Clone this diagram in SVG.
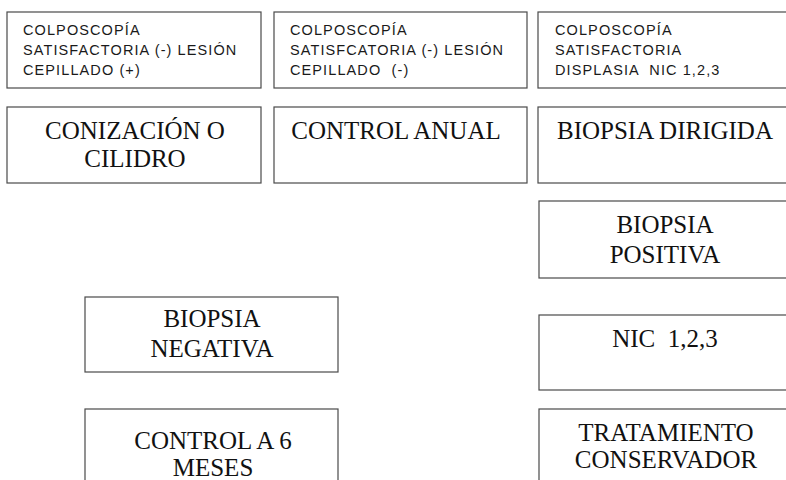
<svg xmlns="http://www.w3.org/2000/svg" width="786" height="480" viewBox="0 0 786 480">
  <style>
    .box { fill: #ffffff; stroke: #4a4a4a; stroke-width: 1.2; }
    .small { font-family: "Liberation Sans", Arial, sans-serif; font-size: 14.5px; letter-spacing: 1.1px; fill: #1a1a1a; }
    .big { font-family: "Liberation Serif", "Times New Roman", serif; font-size: 25px; fill: #111111; text-anchor: middle; }
  </style>
  <rect width="786" height="480" fill="#ffffff"/>

  <!-- top row: colposcopy findings -->
  <g id="colpo-lesion-cepillado-pos">
    <rect class="box" x="7" y="12" width="254" height="76"/>
    <text class="small" x="23" y="35">COLPOSCOPÍA</text>
    <text class="small" x="23" y="55">SATISFACTORIA (-) LESIÓN</text>
    <text class="small" x="23" y="75">CEPILLADO (+)</text>
  </g>
  <g id="colpo-lesion-cepillado-neg">
    <rect class="box" x="274" y="12" width="253" height="76"/>
    <text class="small" x="290" y="35">COLPOSCOPÍA</text>
    <text class="small" x="290" y="55">SATISFCATORIA (-) LESIÓN</text>
    <text class="small" x="290" y="75" xml:space="preserve">CEPILLADO  (-)</text>
  </g>
  <g id="colpo-displasia">
    <rect class="box" x="538" y="12" width="260" height="76"/>
    <text class="small" x="555" y="35">COLPOSCOPÍA</text>
    <text class="small" x="555" y="55">SATISFACTORIA</text>
    <text class="small" x="555" y="75" xml:space="preserve">DISPLASIA  NIC 1,2,3</text>
  </g>

  <!-- second row: first action -->
  <g id="conizacion">
    <rect class="box" x="7" y="107" width="254" height="76"/>
    <text class="big" x="135" y="139">CONIZACIÓN O</text>
    <text class="big" x="135" y="167">CILIDRO</text>
  </g>
  <g id="control-anual">
    <rect class="box" x="274" y="107" width="253" height="76"/>
    <text class="big" x="396" y="139">CONTROL ANUAL</text>
  </g>
  <g id="biopsia-dirigida">
    <rect class="box" x="538" y="107" width="260" height="76"/>
    <text class="big" x="665" y="139">BIOPSIA DIRIGIDA</text>
  </g>

  <!-- right column: positive biopsy path -->
  <g id="biopsia-positiva">
    <rect class="box" x="539" y="201" width="260" height="77"/>
    <text class="big" x="665" y="233">BIOPSIA</text>
    <text class="big" x="665" y="263">POSITIVA</text>
  </g>
  <g id="nic">
    <rect class="box" x="539" y="315" width="260" height="75"/>
    <text class="big" x="665" y="347" xml:space="preserve">NIC  1,2,3</text>
  </g>
  <g id="tratamiento-conservador">
    <rect class="box" x="539" y="409" width="260" height="90"/>
    <text class="big" x="666" y="441">TRATAMIENTO</text>
    <text class="big" x="666" y="468">CONSERVADOR</text>
  </g>

  <!-- left column: negative biopsy path -->
  <g id="biopsia-negativa">
    <rect class="box" x="85" y="297" width="253" height="75"/>
    <text class="big" x="212" y="327">BIOPSIA</text>
    <text class="big" x="212" y="357">NEGATIVA</text>
  </g>
  <g id="control-6-meses">
    <rect class="box" x="85" y="409" width="253" height="90"/>
    <text class="big" x="213" y="449">CONTROL A 6</text>
    <text class="big" x="213" y="476">MESES</text>
  </g>

  <g id="connectors"/>
</svg>
